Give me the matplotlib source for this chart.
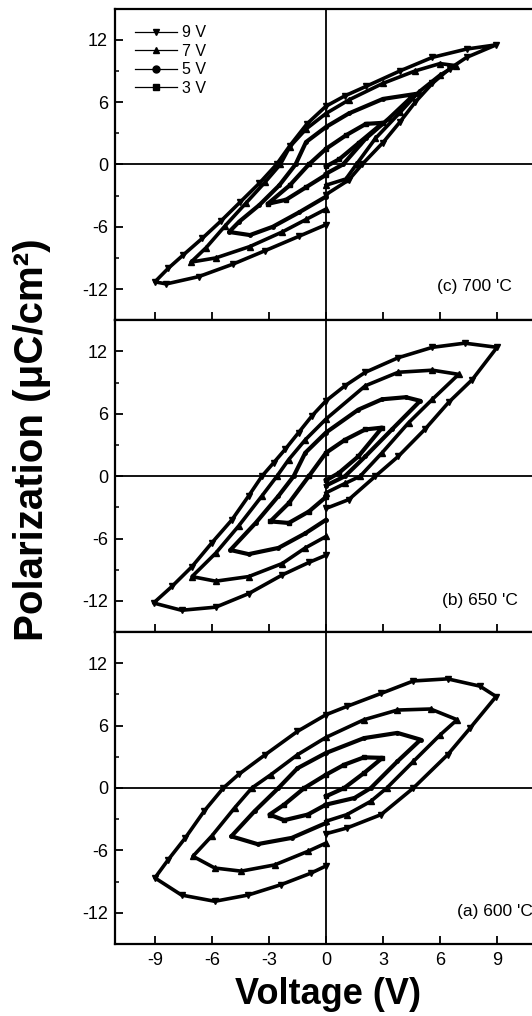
import matplotlib.pyplot as plt
from matplotlib.lines import Line2D

plt.rcParams['font.family'] = ['Liberation Sans', 'DejaVu Sans']
plt.rcParams['axes.unicode_minus'] = False

# (c) 700 'C  -- each loop: start at V=0, up to +Vmax, back to -Vmax, up to V=0
c9_v = [0, 1.2, 1.9, 3.0, 3.9, 4.7, 5.6, 6.5, 7.4, 8.95, 7.4, 5.6, 3.9, 2.1, 1.0, 0, -1.0, -1.9, -2.6, -3.5, -4.5, -5.5, -6.5, -7.5, -8.3, -9.0, -8.4, -6.7, -4.9, -3.2, -1.4, 0]
c9_p = [-2.9, -1.5, 0, 2.1, 4.1, 6.0, 7.8, 9.2, 10.3, 11.5, 11.1, 10.3, 9.0, 7.5, 6.6, 5.6, 3.9, 1.8, 0, -1.8, -3.6, -5.4, -7.1, -8.7, -10.0, -11.3, -11.5, -10.8, -9.6, -8.3, -6.9, -5.8]
c7_v = [0, 1.05, 1.6, 2.6, 3.9, 4.9, 6.0, 6.85, 6.0, 4.7, 3.0, 1.2, 0, -1.05, -1.9, -2.4, -3.2, -4.2, -5.3, -6.3, -7.1, -5.8, -4.0, -2.3, -1.05, 0]
c7_p = [-2.0, -1.4, 0, 2.5, 5.0, 7.0, 8.6, 9.5, 9.7, 9.0, 7.8, 6.2, 4.9, 3.4, 1.7, 0, -1.7, -3.7, -5.9, -8.0, -9.4, -9.0, -7.9, -6.5, -5.3, -4.3]
c5_v = [0, 0.9, 2.1, 3.3, 4.4, 4.8, 3.0, 1.2, 0, -1.05, -1.6, -2.45, -3.5, -4.56, -5.1, -4.0, -2.8, -1.4, 0]
c5_p = [-0.9, 0, 2.5, 4.4, 6.3, 6.8, 6.3, 4.9, 3.6, 2.15, 0, -2.0, -3.9, -5.5, -6.5, -6.8, -6.0, -4.6, -3.1]
c3_v = [0, 0.7, 1.75, 3.0, 2.1, 1.05, 0, -0.9, -1.9, -3.07, -2.1, -1.05, 0]
c3_p = [-0.2, 0.5, 2.1, 4.0, 3.9, 2.8, 1.5, 0, -2.0, -3.8, -3.4, -2.2, -1.0]

# (b) 650 'C
b9_v = [0, 1.2, 2.6, 3.8, 5.2, 6.45, 7.7, 9.0, 7.3, 5.6, 3.8, 2.07, 1.0, 0, -0.74, -1.44, -2.14, -2.75, -3.37, -4.07, -4.95, -6.0, -7.05, -8.1, -9.07, -7.6, -5.8, -4.07, -2.3, -0.9, 0]
b9_p = [-3.1, -2.25, 0, 1.9, 4.5, 7.1, 9.3, 12.4, 12.8, 12.4, 11.4, 10.0, 8.7, 7.25, 5.8, 4.2, 2.6, 1.3, 0, -1.9, -4.2, -6.4, -8.7, -10.6, -12.2, -12.9, -12.6, -11.3, -9.5, -8.3, -7.6]
b7_v = [0, 1.0, 1.8, 2.95, 4.35, 5.6, 6.98, 5.6, 3.8, 2.07, 0, -1.09, -1.96, -2.58, -3.37, -4.6, -5.8, -7.05, -5.8, -4.07, -2.3, -1.09, 0]
b7_p = [-1.6, -0.7, 0, 2.25, 5.15, 7.4, 9.8, 10.2, 10.0, 8.7, 5.5, 3.5, 1.6, 0, -1.9, -4.8, -7.4, -9.66, -10.1, -9.66, -8.4, -6.9, -5.8]
b5_v = [0, 1.0, 2.07, 3.47, 4.96, 4.2, 2.95, 1.7, 0, -1.09, -1.7, -2.5, -3.7, -5.03, -4.07, -2.5, -1.09, 0]
b5_p = [-0.9, 0, 1.9, 4.5, 7.25, 7.6, 7.4, 6.4, 4.2, 2.25, 0, -1.9, -4.5, -7.1, -7.5, -6.9, -5.5, -4.2]
b3_v = [0, 0.67, 1.7, 2.95, 2.07, 1.0, 0, -0.9, -1.96, -2.93, -1.96, -0.9, 0]
b3_p = [-0.4, 0.3, 1.9, 4.67, 4.5, 3.5, 2.25, 0, -2.6, -4.35, -4.5, -3.4, -2.0]

# (a) 600 'C
a9_v = [0, 1.1, 2.9, 4.6, 6.4, 7.6, 8.95, 8.1, 6.4, 4.6, 2.9, 1.1, 0, -1.5, -3.2, -4.6, -5.4, -6.4, -7.4, -8.3, -9.0, -7.6, -5.85, -4.1, -2.36, -0.8, 0]
a9_p = [-4.4, -3.85, -2.56, 0, 3.2, 5.8, 8.8, 9.8, 10.5, 10.3, 9.1, 7.85, 7.05, 5.45, 3.2, 1.3, 0, -2.2, -4.8, -6.9, -8.65, -10.3, -10.9, -10.3, -9.3, -8.2, -7.5]
a7_v = [0, 1.1, 2.36, 3.2, 4.6, 6.0, 6.9, 5.5, 3.76, 2.0, 0, -1.5, -2.9, -3.9, -4.8, -6.0, -7.0, -5.85, -4.46, -2.7, -0.96, 0]
a7_p = [-3.2, -2.56, -1.28, 0, 2.56, 5.1, 6.57, 7.6, 7.5, 6.57, 4.87, 3.2, 1.28, 0, -1.9, -4.6, -6.57, -7.7, -8.0, -7.4, -6.1, -5.3]
a5_v = [0, 1.5, 2.36, 3.76, 4.98, 3.76, 2.0, 0, -1.5, -2.5, -3.76, -4.98, -3.6, -1.8, 0]
a5_p = [-1.6, -0.96, 0, 2.56, 4.65, 5.3, 4.8, 3.37, 1.9, 0, -2.24, -4.65, -5.4, -4.8, -3.37]
a3_v = [0, 0.96, 2.0, 2.97, 2.0, 0.96, 0, -1.14, -2.2, -2.97, -2.2, -0.96, 0]
a3_p = [-0.8, 0, 1.44, 2.9, 2.95, 2.24, 1.28, 0, -1.6, -2.56, -3.1, -2.56, -1.6]

labels = ['9 V', '7 V', '5 V', '3 V']
markers = ['v', '^', 'o', 's']
panel_titles = ["(c) 700 'C", "(b) 650 'C", "(a) 600 'C"]
title_pos = [(5.84, -11.7), (6.1, -12.0), (6.9, -11.9)]

panels = [
    [(c9_v, c9_p), (c7_v, c7_p), (c5_v, c5_p), (c3_v, c3_p)],
    [(b9_v, b9_p), (b7_v, b7_p), (b5_v, b5_p), (b3_v, b3_p)],
    [(a9_v, a9_p), (a7_v, a7_p), (a5_v, a5_p), (a3_v, a3_p)],
]

fig = plt.figure(figsize=(5.32, 10.16), dpi=100)
W, H = 532.0, 1016.0
left, width = 115 / W, 421 / W
ph = 311.8 / H
top = 1 - 8.5 / H

axes = []
for i in range(3):
    ax = fig.add_axes([left, top - (i + 1) * ph, width, ph])
    axes.append(ax)
    ax.axhline(0, color='k', lw=1.3, zorder=1)
    ax.axvline(0, color='k', lw=1.3, zorder=1)
    for (v, p), m in zip(panels[i], markers):
        if m in ('v', '^'):
            ax.plot(v, p, color='k', lw=2.6, marker=m, ms=3.8, zorder=3,
                    solid_joinstyle='round')
        else:
            ax.plot(v, p, color='k', lw=3.0, marker=m, ms=2.5, zorder=3,
                    solid_joinstyle='round')
    ax.set_xlim(-11.1, 11.05)
    ax.set_ylim(-15, 15)
    ax.set_xticks([-9, -6, -3, 0, 3, 6, 9])
    ax.set_yticks([-12, -6, 0, 6, 12])
    ax.set_yticks([-9, -3, 3, 9], minor=True)
    ax.tick_params(which='major', direction='in', length=6, width=1.3,
                   labelsize=13, pad=5)
    ax.tick_params(which='minor', direction='in', length=3, width=1.1)
    ax.tick_params(axis='x', pad=6)
    for s in ax.spines.values():
        s.set_linewidth(1.6)
    if i < 2:
        ax.tick_params(axis='x', labelbottom=False)
    tx, ty = title_pos[i]
    ax.text(tx, ty, panel_titles[i], fontsize=12.5, ha='left', va='center')

handles = [Line2D([], [], color='k', lw=0.9, marker=m, ms=5, label=l)
           for m, l in zip(markers, labels)]
axes[0].legend(handles=handles, loc='upper left', bbox_to_anchor=(0.048, 0.946),
               frameon=False, fontsize=11.5, handlelength=2.6, handletextpad=0.35,
               labelspacing=0.22, borderpad=0, borderaxespad=0)

fig.text(328 / W, 1 - 994 / H, 'Voltage (V)', fontsize=26, fontweight='bold',
         ha='center', va='center')
fig.text(32 / W, 1 - 440 / H, 'Polarization (\u03bcC/cm\u00b2)', fontsize=29,
         fontweight='bold', rotation=90, ha='center', va='center')

fig.savefig('out.png', dpi=100)
